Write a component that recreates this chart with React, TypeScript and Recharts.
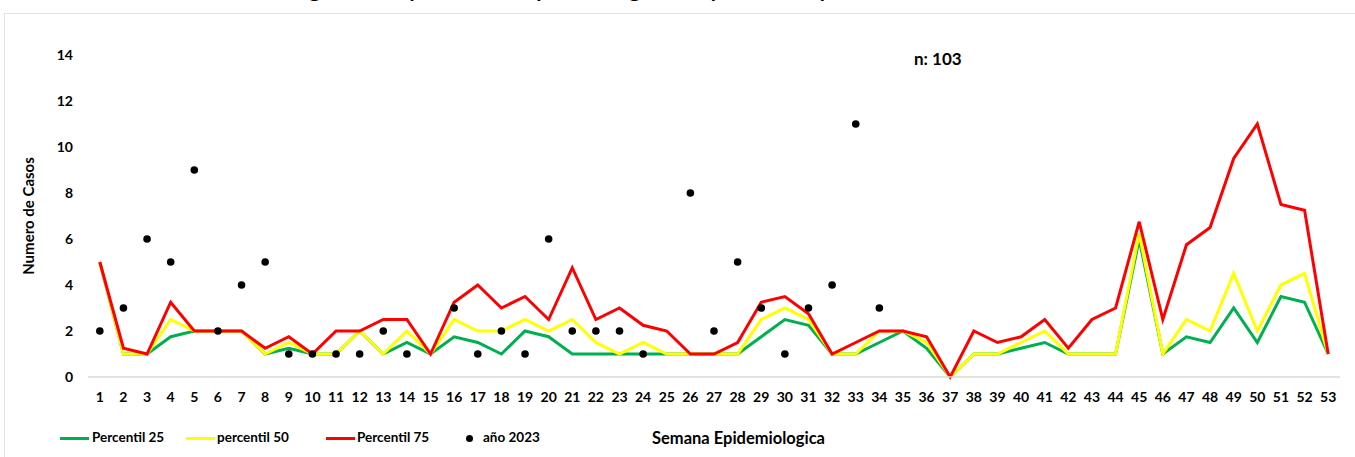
import { ComposedChart, Line, XAxis, YAxis } from "recharts";

const weeks = [
  "1", "2", "3", "4", "5", "6", "7", "8", "9", "10", "11", "12", "13", "14", "15", "16", "17", "18",
  "19", "20", "21", "22", "23", "24", "25", "26", "27", "28", "29", "30", "31", "32", "33", "34", "35",
  "36", "37", "38", "39", "40", "41", "42", "43", "44", "45", "46", "47", "48", "49", "50", "51", "52", "53",
];

const p25 = [
  5, 1, 1, 1.75, 2, 2, 2, 1, 1.25, 1, 1, 2, 1, 1.5, 1, 1.75, 1.5, 1, 2, 1.75, 1, 1, 1, 1, 1, 1, 1,
  1, 1.75, 2.5, 2.25, 1, 1, 1.5, 2, 1.25, 0, 1, 1, 1.25, 1.5, 1, 1, 1, 6, 1, 1.75, 1.5, 3, 1.5, 3.5,
  3.25, 1,
];

const p50 = [
  5, 1, 1, 2.5, 2, 2, 2, 1, 1.5, 1, 1, 2, 1, 2, 1, 2.5, 2, 2, 2.5, 2, 2.5, 1.5, 1, 1.5, 1, 1, 1, 1,
  2.5, 3, 2.5, 1, 1, 2, 2, 1.5, 0, 1, 1, 1.5, 2, 1, 1, 1, 6.25, 1, 2.5, 2, 4.5, 2, 4, 4.5, 1,
];

const p75 = [
  5, 1.25, 1, 3.25, 2, 2, 2, 1.25, 1.75, 1, 2, 2, 2.5, 2.5, 1, 3.25, 4, 3, 3.5, 2.5, 4.75, 2.5, 3,
  2.25, 2, 1, 1, 1.5, 3.25, 3.5, 2.75, 1, 1.5, 2, 2, 1.75, 0, 2, 1.5, 1.75, 2.5, 1.25, 2.5, 3, 6.75,
  2.5, 5.75, 6.5, 9.5, 11, 7.5, 7.25, 1,
];

const cases2023 = [
  2, 3, 6, 5, 9, 2, 4, 5, 1, 1, 1, 1, 2, 1, null, 3, 1, 2, 1, 6, 2, 2, 2, 1, null, 8, 2, 5, 3, 1, 3,
  4, 11, 3,
];

const yTicks = [0, 2, 4, 6, 8, 10, 12, 14];

const data = weeks.map((w, i) => ({
  week: w,
  p25: p25[i],
  p50: p50[i],
  p75: p75[i],
  y2023: i < cases2023.length ? cases2023[i] : null,
}));

const FONT = "Lato, 'Open Sans', sans-serif";
const GREEN = "#00B050";
const YELLOW = "#FFFF00";
const RED = "#FF0000";

const legendText = { position: "absolute" as const, top: 429, fontSize: 13.5, fontWeight: 700 };

function LegendLine({ left, color }: { left: number; color: string }) {
  return (
    <div
      style={{ position: "absolute", left, top: 437, width: 29, height: 3, background: color }}
    />
  );
}

export default function App() {
  return (
    <div
      style={{
        position: "absolute",
        left: 0,
        top: 0,
        width: 1355,
        height: 457,
        overflow: "hidden",
        background: "#fff",
        fontFamily: FONT,
        color: "#000",
      }}
    >
      <div
        style={{
          position: "absolute",
          left: 4,
          top: 13,
          width: 1400,
          height: 500,
          border: "1px solid #e3e3e3",
        }}
      />
      <div
        style={{
          position: "absolute",
          left: 270,
          top: -22,
          fontSize: 21,
          fontWeight: 700,
          lineHeight: "21px",
          whiteSpace: "nowrap",
        }}
      >
        Dengue, casos por Semana Epidemiologica comparado con percentiles
      </div>
      <div style={{ position: "absolute", left: 914, top: 48, fontSize: 17, fontWeight: 700 }}>
        n: 103
      </div>

      <ComposedChart
        width={1355}
        height={457}
        data={data}
        margin={{ top: 55, right: 15, bottom: 50, left: 0 }}
        style={{ position: "absolute", left: 0, top: 0 }}
      >
        <XAxis
          dataKey="week"
          scale="band"
          interval={0}
          tickLine={false}
          axisLine={{ stroke: "#d9d9d9", strokeWidth: 1.5 }}
          tickMargin={9}
          height={30}
          tick={{ fill: "#000", fontSize: 14, fontWeight: 700, fontFamily: FONT }}
        />
        <YAxis
          width={88}
          domain={[0, 14]}
          ticks={yTicks}
          axisLine={false}
          tickLine={false}
          tickMargin={9}
          tick={{ fill: "#000", fontSize: 14, fontWeight: 700, fontFamily: FONT }}
          label={{
            value: "Numero de Casos",
            angle: -90,
            position: "center",
            dx: -15,
            style: { fill: "#000", fontSize: 15, fontWeight: 700, fontFamily: FONT },
          }}
        />
        <Line
          dataKey="p25"
          stroke={GREEN}
          strokeWidth={3}
          dot={false}
          isAnimationActive={false}
        />
        <Line
          dataKey="p50"
          stroke={YELLOW}
          strokeWidth={3}
          dot={false}
          isAnimationActive={false}
        />
        <Line
          dataKey="p75"
          stroke={RED}
          strokeWidth={3}
          dot={false}
          isAnimationActive={false}
        />
        <Line
          dataKey="y2023"
          stroke="none"
          dot={{ r: 3.8, fill: "#000", stroke: "#000", strokeWidth: 0 }}
          activeDot={false}
          isAnimationActive={false}
        />
      </ComposedChart>

      <LegendLine left={60} color={GREEN} />
      <div style={{ ...legendText, left: 92 }}>Percentil 25</div>
      <LegendLine left={186} color={YELLOW} />
      <div style={{ ...legendText, left: 217 }}>percentil 50</div>
      <LegendLine left={326} color={RED} />
      <div style={{ ...legendText, left: 357 }}>Percentil 75</div>
      <div
        style={{
          position: "absolute",
          left: 466,
          top: 435,
          width: 7,
          height: 7,
          borderRadius: "50%",
          background: "#000",
        }}
      />
      <div style={{ ...legendText, left: 483 }}>año 2023</div>
      <div style={{ ...legendText, left: 652, top: 428, fontSize: 16.5 }}>Semana Epidemiologica</div>
    </div>
  );
}
